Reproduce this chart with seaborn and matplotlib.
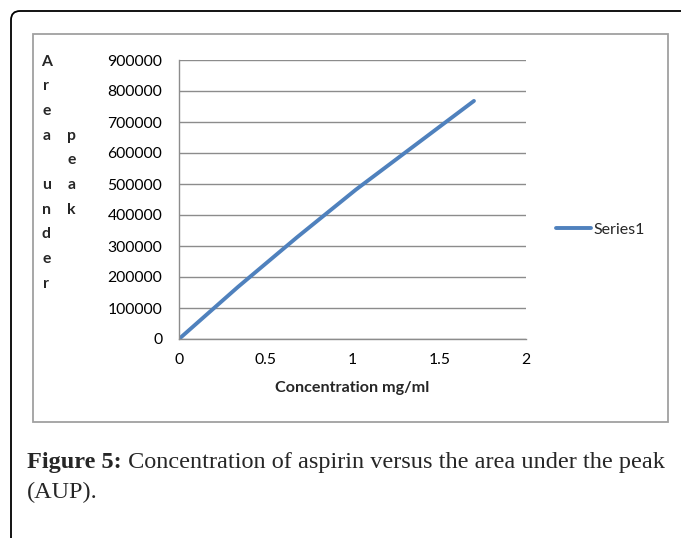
import matplotlib
matplotlib.use("Agg")
import matplotlib.pyplot as plt
import matplotlib.transforms as mtransforms
from matplotlib.patches import FancyBboxPatch, Rectangle
import seaborn as sns
import pandas as pd

# ---- data ----
concentration = [0, 0.34, 0.68, 1.02, 1.36, 1.7]
area = [0, 168000, 328000, 482000, 625000, 768000]
series_name = "Series1"
x_ticks = [0, 0.5, 1, 1.5, 2]
x_tick_labels = ["0", "0.5", "1", "1.5", "2"]
y_ticks = [0, 100000, 200000, 300000, 400000, 500000, 600000, 700000, 800000, 900000]
y_tick_labels = [str(v) for v in y_ticks]
x_label = "Concentration mg/ml"
y_label_col1 = "Area under"
y_label_col2 = "peak"
caption_bold = "Figure 5:"
caption_line1 = " Concentration of aspirin versus the area under the peak"
caption_line2 = "(AUP)."

df = pd.DataFrame({"conc": concentration, "area": area, "series": series_name})

sns.set_style("white")
plt.rcParams['font.family'] = ['Lato', 'DejaVu Sans']

W, H = 681, 538
fig = plt.figure(figsize=(W / 100, H / 100), dpi=100)
ident = mtransforms.IdentityTransform()


def fx(px):
    return px / W


def fy(py):
    return 1 - py / H


# outer page border (rounded top-left corner, runs off canvas)
outer = FancyBboxPatch((11, -40), 760, H - 11 + 40,
                       boxstyle="round,pad=0,rounding_size=9",
                       transform=ident, fill=False, edgecolor="black", lw=1.3)
fig.patches.append(outer)

# chart area border
inner = Rectangle((33, H - 422), 635, 388, transform=ident, fill=False,
                  edgecolor="#a0a0a0", lw=1.3)
fig.patches.append(inner)

ax = fig.add_axes([fx(179), fy(339), fx(526) - fx(179), fy(60) - fy(339)])
sns.lineplot(data=df, x="conc", y="area", hue="series", palette=["#4F81BD"],
             lw=2.8, ax=ax, legend=True)

ax.set_xlim(0, 2)
ax.set_ylim(0, 900000)
ax.set_xticks(x_ticks)
ax.set_xticklabels(x_tick_labels)
ax.set_yticks(y_ticks)
ax.set_yticklabels(y_tick_labels)
ax.set_xlabel("")
ax.set_ylabel("")
ax.yaxis.grid(True, color="#8c8c8c", lw=1.0)
ax.xaxis.grid(False)
ax.set_axisbelow(True)
for s in ["top", "right"]:
    ax.spines[s].set_visible(False)
for s in ["left", "bottom"]:
    ax.spines[s].set_color("#8c8c8c")
    ax.spines[s].set_linewidth(1.0)
ax.tick_params(axis="both", direction="out", length=4, width=1.0,
               color="#8c8c8c", labelsize=11.3, labelcolor="black")
ax.tick_params(axis="y", pad=8)
ax.tick_params(axis="x", pad=6)

# legend
leg = ax.legend(loc="center left", bbox_to_anchor=(fx(556), fy(230)),
                bbox_transform=fig.transFigure, frameon=False, fontsize=11.5,
                handlelength=2.2, handletextpad=0.15, borderpad=0, borderaxespad=0)
for line in leg.get_lines():
    line.set_linewidth(2.8)

# x label
fig.text(fx(352.5), fy(388), x_label, ha="center", va="center",
         fontsize=11.6, fontweight="bold")

# y label stacked letters
for i, ch in enumerate(y_label_col1):
    if ch.strip():
        fig.text(fx(46.5), fy(61.5 + i * 24.7), ch, ha="center", va="center",
                 fontsize=11.3, fontweight="bold")
for i, ch in enumerate(y_label_col2):
    fig.text(fx(71.5), fy(61.5 + (i + 3) * 24.7), ch, ha="center", va="center",
             fontsize=11.3, fontweight="bold")

# caption
serif = ["Liberation Serif", "DejaVu Serif"]
t1 = fig.text(fx(27), fy(468), caption_bold, ha="left", va="baseline",
              fontsize=17.5, fontweight="bold", family=serif)
fig.canvas.draw()
bb = t1.get_window_extent()
fig.text(bb.x1 / W, fy(468), caption_line1, ha="left", va="baseline",
         fontsize=17.5, family=serif)
fig.text(fx(27), fy(498), caption_line2, ha="left", va="baseline",
         fontsize=17.5, family=serif)

fig.savefig("out.png", dpi=100)
